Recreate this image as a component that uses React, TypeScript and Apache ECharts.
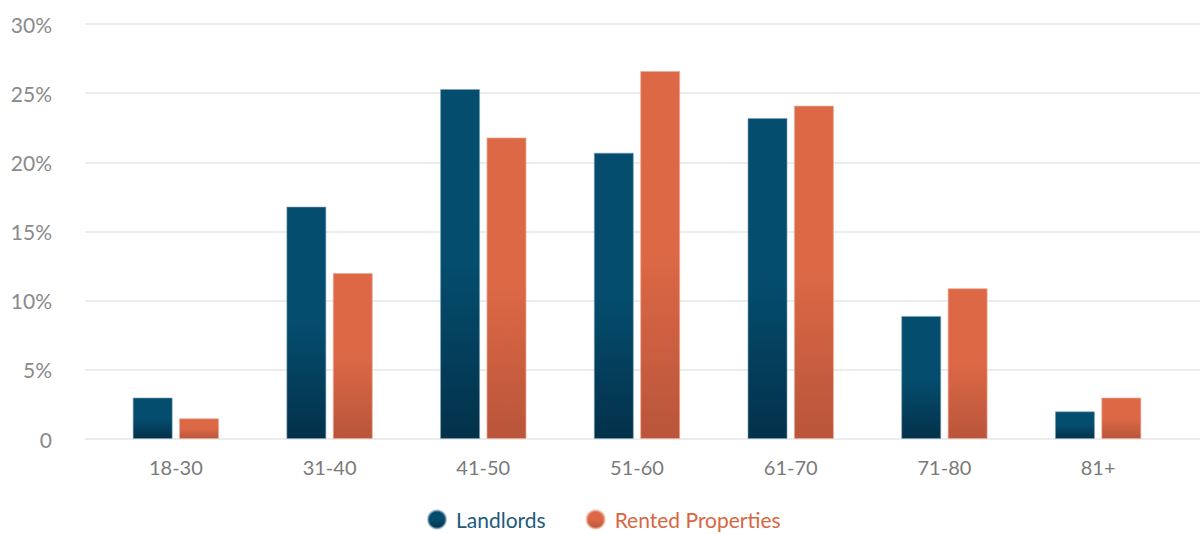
import React, { useEffect, useRef } from "react";
import * as echarts from "echarts";

const categories = ["18-30", "31-40", "41-50", "51-60", "61-70", "71-80", "81+"];
const landlords = [3.0, 16.8, 25.3, 20.7, 23.2, 8.9, 2.0];
const rentedProperties = [1.5, 12.0, 21.8, 26.6, 24.1, 10.9, 3.0];

const grad = (top: string, bottom: string) =>
  new echarts.graphic.LinearGradient(0, 0, 0, 1, [
    { offset: 0, color: top },
    { offset: 0.5, color: top },
    { offset: 1, color: bottom },
  ]);

export default function App() {
  const ref = useRef<HTMLDivElement>(null);
  useEffect(() => {
    if (!ref.current) return;
    const chart = echarts.init(ref.current, null, { renderer: "svg" });
    const font = "Lato, 'Noto Sans', sans-serif";
    chart.setOption({
      animation: false,
      backgroundColor: "#ffffff",
      grid: [
        { left: 85, right: 0, top: 24, bottom: 95 },
        { left: 99, right: 25, top: 24, bottom: 95 },
      ],
      xAxis: [
        { type: "value", gridIndex: 0, show: false, min: 0, max: 1 },
        {
          type: "category",
          gridIndex: 1,
          data: categories,
          axisLine: { show: false },
          axisTick: { show: false },
          axisLabel: { color: "#7a7a7a", fontSize: 20, fontFamily: font, margin: 18 },
        },
      ],
      yAxis: [
        {
          type: "value",
          gridIndex: 0,
          min: 0,
          max: 30,
          interval: 5,
          axisLine: { show: false },
          axisTick: { show: false },
          splitLine: { lineStyle: { color: "#ececec", width: 2 } },
          axisLabel: {
            color: "#8a8a8a",
            fontSize: 21,
            fontFamily: font,
            margin: 33,
            formatter: (v: number) => (v === 0 ? "0" : v + "%"),
          },
        },
        {
          type: "value",
          gridIndex: 1,
          min: 0,
          max: 30,
          interval: 5,
          show: false,
          splitLine: { show: false },
        },
      ],
      legend: {
        top: 504,
        left: 422,
        itemWidth: 18,
        itemHeight: 18,
        itemGap: 40,
        icon: "circle",
        textStyle: { fontSize: 21, fontFamily: font, padding: [0, 0, 0, 5] },
        data: [
          { name: "Landlords", textStyle: { color: "#1d5b7c" } },
          { name: "Rented Properties", textStyle: { color: "#d9663f" } },
        ],
      },
      series: [
        {
          name: "Landlords",
          type: "bar",
          xAxisIndex: 1,
          yAxisIndex: 1,
          data: landlords,
          barWidth: 40,
          barGap: "16%",
          itemStyle: {
            color: grad("#044d6e", "#03314a"),
            borderColor: "rgba(120,160,180,0.6)",
            borderWidth: 1,
          },
        },
        {
          name: "Rented Properties",
          type: "bar",
          xAxisIndex: 1,
          yAxisIndex: 1,
          data: rentedProperties,
          barWidth: 40,
          barGap: "16%",
          itemStyle: {
            color: grad("#dc6846", "#b9553a"),
            borderColor: "rgba(240,170,150,0.7)",
            borderWidth: 1,
          },
        },
      ],
    });
    return () => chart.dispose();
  }, []);
  return <div ref={ref} style={{ width: 1200, height: 534, position: "absolute", left: 0, top: 0 }} />;
}
